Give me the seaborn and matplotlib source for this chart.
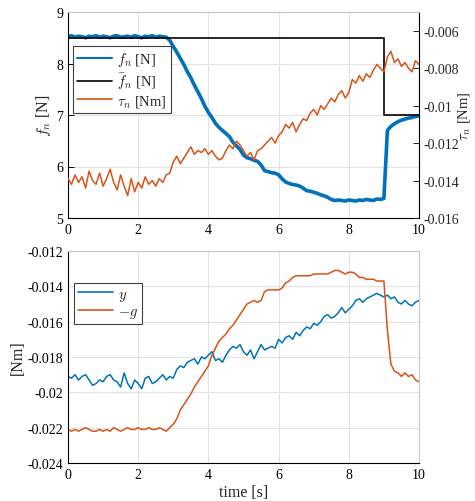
import numpy as np
import pandas as pd
import matplotlib
matplotlib.use("Agg")
import matplotlib.pyplot as plt
import seaborn as sns

# ---------------- data ----------------
time = [round(0.1 * i, 1) for i in range(101)]

f_n = [8.52, 8.54, 8.51, 8.53, 8.52, 8.50, 8.53, 8.52, 8.54, 8.51,
       8.53, 8.52, 8.50, 8.53, 8.54, 8.51, 8.52, 8.53, 8.51, 8.54,
       8.52, 8.50, 8.53, 8.52, 8.54, 8.51, 8.53, 8.52, 8.51, 8.45,
       8.33, 8.22, 8.10, 7.98, 7.84, 7.72, 7.58, 7.45, 7.32, 7.17,
       7.05, 6.95, 6.84, 6.76, 6.70, 6.64, 6.58, 6.47, 6.40, 6.33,
       6.22, 6.17, 6.15, 6.12, 6.10, 6.03, 5.92, 5.90, 5.88, 5.87,
       5.84, 5.76, 5.70, 5.67, 5.65, 5.64, 5.62, 5.58, 5.53, 5.52,
       5.50, 5.48, 5.45, 5.43, 5.40, 5.36, 5.34, 5.35, 5.34, 5.33,
       5.35, 5.34, 5.33, 5.35, 5.34, 5.36, 5.35, 5.34, 5.37, 5.36,
       5.38, 6.70, 6.78, 6.83, 6.87, 6.90, 6.92, 6.94, 6.95, 6.97,
       6.98]

fbar_time = [0.0, 9.0, 9.0, 10.0]
fbar_n = [8.5, 8.5, 7.0, 7.0]

tau_n = [-0.0139, -0.0142, -0.0137, -0.0141, -0.0138, -0.0144, -0.0135, -0.0140, -0.0142, -0.0136,
         -0.0143, -0.0139, -0.0134, -0.0141, -0.0145, -0.0137, -0.0143, -0.0148, -0.0139, -0.0146,
         -0.0141, -0.0144, -0.0138, -0.0142, -0.0140, -0.0143, -0.0139, -0.0141, -0.0137, -0.0136,
         -0.0130, -0.0127, -0.0131, -0.0128, -0.0125, -0.0122, -0.0126, -0.0124, -0.0125, -0.0123,
         -0.0126, -0.0124, -0.0127, -0.0129, -0.0128, -0.0124, -0.0121, -0.0123, -0.0119, -0.0121,
         -0.0124, -0.0127, -0.0125, -0.0129, -0.0124, -0.0123, -0.0121, -0.0119, -0.0117, -0.0120,
         -0.0116, -0.0114, -0.0110, -0.0112, -0.0109, -0.0114, -0.0110, -0.0107, -0.0108, -0.0104,
         -0.0102, -0.0105, -0.0100, -0.0102, -0.0099, -0.0096, -0.0098, -0.0094, -0.0092, -0.0096,
         -0.0093, -0.0086, -0.0088, -0.0084, -0.0087, -0.0083, -0.0085, -0.0081, -0.0078, -0.0080,
         -0.0082, -0.0074, -0.0071, -0.0077, -0.0075, -0.0079, -0.0077, -0.0080, -0.0082, -0.0076,
         -0.0078]

y_sig = [-0.0191, -0.0192, -0.0190, -0.0193, -0.0191, -0.0190, -0.0193, -0.0196, -0.0195, -0.0193,
         -0.0194, -0.0191, -0.0190, -0.0193, -0.0194, -0.0197, -0.0189, -0.0195, -0.0198, -0.0193,
         -0.0195, -0.0198, -0.0192, -0.0191, -0.0195, -0.0194, -0.0192, -0.0190, -0.0193, -0.0191,
         -0.0192, -0.0187, -0.0185, -0.0186, -0.0183, -0.0182, -0.0181, -0.0184, -0.0180, -0.0181,
         -0.0179, -0.0177, -0.0182, -0.0181, -0.0183, -0.0179, -0.0176, -0.0174, -0.0175, -0.0173,
         -0.0177, -0.0179, -0.0176, -0.0181, -0.0177, -0.0173, -0.0176, -0.0175, -0.0174, -0.0175,
         -0.0170, -0.0172, -0.0169, -0.0168, -0.0170, -0.0166, -0.0168, -0.0165, -0.0163, -0.0164,
         -0.0161, -0.0162, -0.0160, -0.0157, -0.0156, -0.0158, -0.0157, -0.0155, -0.0152, -0.0155,
         -0.0153, -0.0151, -0.0148, -0.0147, -0.0149, -0.0147, -0.0146, -0.0145, -0.0144, -0.0145,
         -0.0146, -0.0145, -0.0147, -0.0146, -0.0149, -0.0150, -0.0148, -0.0150, -0.0151, -0.0149,
         -0.0148]

minus_g = [-0.0221, -0.0222, -0.0221, -0.0222, -0.0221, -0.0220, -0.0221, -0.0222, -0.0222, -0.0221,
           -0.0222, -0.0221, -0.0222, -0.0220, -0.0221, -0.0222, -0.0221, -0.0220, -0.0221, -0.0221,
           -0.0220, -0.0221, -0.0221, -0.0220, -0.0221, -0.0221, -0.0220, -0.0221, -0.0222, -0.0220,
           -0.0218, -0.0215, -0.0210, -0.0207, -0.0204, -0.0201, -0.0197, -0.0194, -0.0191, -0.0188,
           -0.0185, -0.0179, -0.0175, -0.0171, -0.0169, -0.0167, -0.0164, -0.0162, -0.0159, -0.0156,
           -0.0153, -0.0150, -0.0149, -0.0148, -0.0149, -0.0148, -0.0143, -0.0142, -0.0142, -0.0142,
           -0.0142, -0.0141, -0.0138, -0.0137, -0.0135, -0.0134, -0.0134, -0.0134, -0.0134, -0.0134,
           -0.0133, -0.0133, -0.0133, -0.0133, -0.0133, -0.0132, -0.0131, -0.0131, -0.0132, -0.0133,
           -0.0132, -0.0132, -0.0133, -0.0135, -0.0135, -0.0136, -0.0136, -0.0136, -0.0137, -0.0137,
           -0.0137, -0.0165, -0.0184, -0.0188, -0.0189, -0.0191, -0.0189, -0.0191, -0.0190, -0.0193,
           -0.0194]

x_ticks = [0, 2, 4, 6, 8, 10]
f_ticks = [5, 6, 7, 8, 9]
tau_ticks = [-0.016, -0.014, -0.012, -0.01, -0.008, -0.006]
tau_ticklabels = ["-0.016", "-0.014", "-0.012", "-0.01", "-0.008", "-0.006"]
bot_ticks = [-0.024, -0.022, -0.02, -0.018, -0.016, -0.014, -0.012]
bot_ticklabels = ["-0.024", "-0.022", "-0.02", "-0.018", "-0.016", "-0.014", "-0.012"]

# ---------------- style ----------------
sns.set_style("white")
plt.rcParams["font.family"] = ["Liberation Serif", "DejaVu Serif"]
plt.rcParams["mathtext.fontset"] = "cm"
plt.rcParams["axes.unicode_minus"] = False

BLUE = "#0072BD"
ORANGE = "#D95319"
GRID = "#e3e3e3"
BOXGRAY = "#c8c8c8"
FS = 10.5
TFS = 10

top = pd.DataFrame({"time": time, "f_n": f_n, "tau_n": tau_n})
fbar = pd.DataFrame({"time": fbar_time, "fbar": fbar_n})
bot = pd.DataFrame({"time": time, "y": y_sig, "g": minus_g})

fig = plt.figure(figsize=(4.75, 5.02), dpi=100)
W, H = 475, 502
ax1 = fig.add_axes([68 / W, 1 - 219 / H, 351 / W, 206 / H])
ax3 = fig.add_axes([68 / W, 1 - 464 / H, 351 / W, 212 / H])


def style_axis(ax):
    ax.tick_params(direction="in", length=4, width=0.7, labelsize=TFS, colors="black")
    for s in ["left", "bottom"]:
        ax.spines[s].set_color("black")
        ax.spines[s].set_linewidth(0.8)
    for s in ["top", "right"]:
        ax.spines[s].set_color(BOXGRAY)
        ax.spines[s].set_linewidth(0.8)
    ax.grid(True, color=GRID, linewidth=0.8)
    ax.set_axisbelow(True)


# ---- top panel ----
style_axis(ax1)
sns.lineplot(data=top, x="time", y="f_n", ax=ax1, color=BLUE, linewidth=2.6,
             legend=False, estimator=None, sort=False)
sns.lineplot(data=fbar, x="time", y="fbar", ax=ax1, color="black", linewidth=1.2,
             legend=False, estimator=None, sort=False)
ax1.set_xlim(0, 10)
ax1.set_ylim(5, 9)
ax1.set_xticks(x_ticks)
ax1.set_yticks(f_ticks)
ax1.set_xlabel("")
ax1.set_ylabel(r"$f_n$ [N]", fontsize=FS + 1, labelpad=2)

ax2 = ax1.twinx()
sns.lineplot(data=top, x="time", y="tau_n", ax=ax2, color=ORANGE, linewidth=1.1,
             legend=False, estimator=None, sort=False)
ax2.set_ylim(-0.016, -0.005)
ax2.set_yticks(tau_ticks)
ax2.set_yticklabels(tau_ticklabels)
ax2.tick_params(direction="in", length=4, width=0.7, labelsize=TFS, pad=3)
ax2.spines["right"].set_color("black")
ax2.spines["right"].set_linewidth(0.8)
ax2.spines["top"].set_color(BOXGRAY)
ax2.spines["left"].set_visible(False)
ax2.spines["bottom"].set_visible(False)
ax2.set_ylabel(r"$\tau_n$ [Nm]", fontsize=FS)
ax2.yaxis.set_label_coords((456 - 68) / 351, 0.5)
ax2.grid(False)

handles = [
    plt.Line2D([], [], color=BLUE, linewidth=1.5),
    plt.Line2D([], [], color="black", linewidth=1.2),
    plt.Line2D([], [], color=ORANGE, linewidth=1.2),
]
labels = [r"$f_n$ [N]", r"$\bar{f}_n$ [N]", r"$\tau_n$ [Nm]"]
leg = ax2.legend(handles, labels, loc="upper left", bbox_to_anchor=(0.014, 0.835),
                 borderaxespad=0, fontsize=FS, frameon=True, fancybox=False,
                 handlelength=2.4, handletextpad=0.3, borderpad=0.3, labelspacing=0.15)
leg.get_frame().set_edgecolor("#404040")
leg.get_frame().set_linewidth(0.8)
leg.get_frame().set_alpha(1)

# ---- bottom panel ----
style_axis(ax3)
sns.lineplot(data=bot, x="time", y="y", ax=ax3, color=BLUE, linewidth=1.1,
             legend=False, estimator=None, sort=False)
sns.lineplot(data=bot, x="time", y="g", ax=ax3, color=ORANGE, linewidth=1.1,
             legend=False, estimator=None, sort=False)
ax3.set_xlim(0, 10)
ax3.set_ylim(-0.024, -0.012)
ax3.set_xticks(x_ticks)
ax3.set_yticks(bot_ticks)
ax3.set_yticklabels(bot_ticklabels)
ax3.set_xlabel("time [s]", fontsize=FS + 1, labelpad=2)
ax3.set_ylabel("[Nm]", fontsize=FS + 1, labelpad=1)
h3 = [plt.Line2D([], [], color=BLUE, linewidth=1.2),
      plt.Line2D([], [], color=ORANGE, linewidth=1.2)]
leg3 = ax3.legend(h3, [r"$y$", r"$-g$"], loc="upper left", bbox_to_anchor=(0.017, 0.849),
                  borderaxespad=0, fontsize=FS, frameon=True, fancybox=False,
                  handlelength=2.4, handletextpad=0.3, borderpad=0.3, labelspacing=0.15)
leg3.get_frame().set_edgecolor("#404040")
leg3.get_frame().set_linewidth(0.8)
leg3.get_frame().set_alpha(1)

fig.savefig("out.png", dpi=100)
